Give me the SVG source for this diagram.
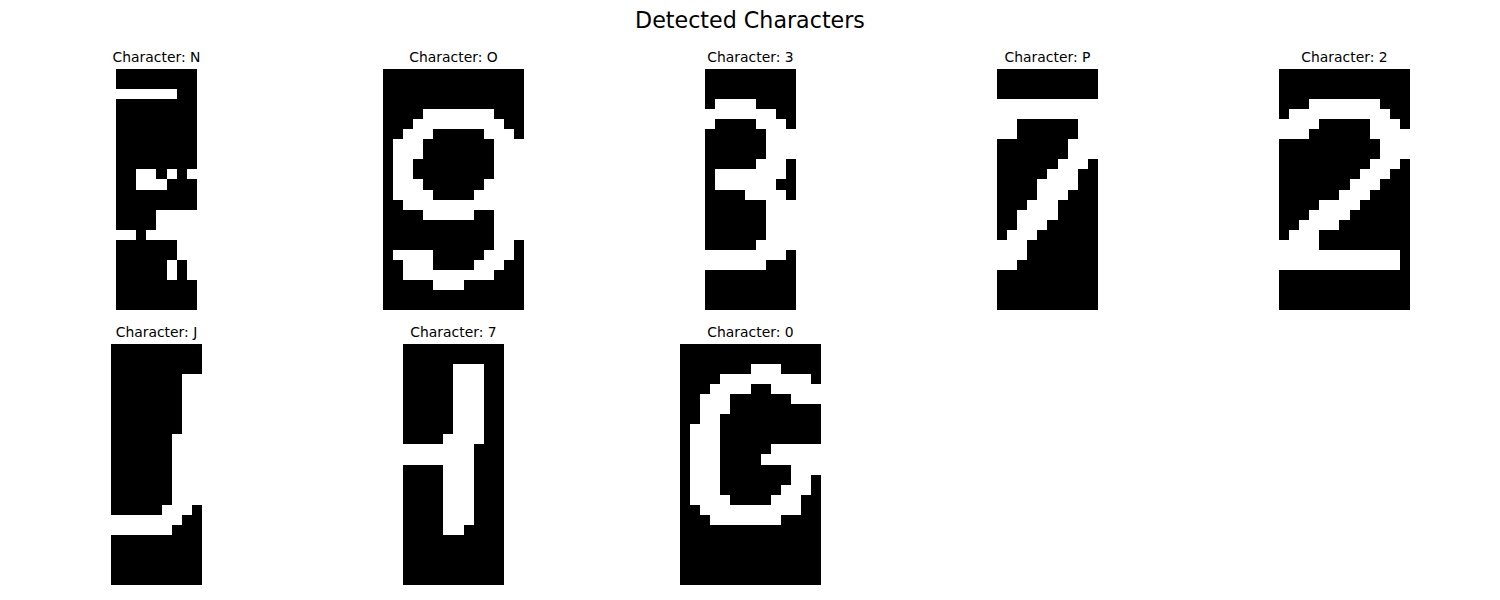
<svg xmlns="http://www.w3.org/2000/svg" width="1500" height="600" viewBox="0 0 1500 600">
<style>
.bg{fill:#ffffff}
.cell{fill:#000000}
.px{fill:#ffffff}
.ttl{font-family:"DejaVu Sans","Liberation Sans",sans-serif;font-size:13.9px;fill:#000;text-anchor:middle}
.sup{font-family:"DejaVu Sans","Liberation Sans",sans-serif;font-size:22.2px;fill:#000;text-anchor:middle}
</style>
<rect class="bg" x="0" y="0" width="1500" height="600"/>
<text class="sup" x="750" y="27.5">Detected Characters</text>

<g id="char1">
<text class="ttl" x="156.5" y="61.5">Character: N</text>
<g transform="translate(116.33,69) scale(10.0417)" shape-rendering="crispEdges">
<rect class="cell" x="0" y="0" width="8" height="24"/>
<path class="px" d="M0 2h6v1h-6z M2 10h2v1h-2z M5 10h1v1h-1z M7 10h1v1h-1z M2 11h3v1h-3z M4 14h4v2h-4z M0 16h2v1h-2z M3 16h5v1h-5z M6 17h2v2h-2z M5 19h1v2h-1z M7 19h1v2h-1z"/>
</g>
</g>

<g id="char2">
<text class="ttl" x="453.5" y="61.5">Character: O</text>
<g transform="translate(383.21,69) scale(10.0417)" shape-rendering="crispEdges">
<rect class="cell" x="0" y="0" width="14" height="24"/>
<path class="px" d="M4 4h7v1h-7z M3 5h9v1h-9z M2 6h3v1h-3z M10 6h3v1h-3z M1 7h3v2h-3z M11 7h3v2h-3z M1 9h2v2h-2z M11 9h3v2h-3z M1 11h3v1h-3z M10 11h4v1h-4z M1 12h4v1h-4z M9 12h5v1h-5z M2 13h12v1h-12z M4 14h5v1h-5z M11 14h3v3h-3z M11 17h2v1h-2z M1 18h4v1h-4z M10 18h3v1h-3z M2 19h3v1h-3z M9 19h3v1h-3z M2 20h9v1h-9z M5 21h3v1h-3z"/>
</g>
</g>

<g id="char3">
<text class="ttl" x="750.5" y="61.5">Character: 3</text>
<g transform="translate(705.31,69) scale(10.0417)" shape-rendering="crispEdges">
<rect class="cell" x="0" y="0" width="9" height="24"/>
<path class="px" d="M1 3h4v1h-4z M0 4h7v1h-7z M0 5h1v1h-1z M5 5h3v1h-3z M6 6h3v3h-3z M5 9h3v1h-3z M1 10h7v1h-7z M1 11h6v1h-6z M4 12h4v1h-4z M6 13h3v4h-3z M5 17h4v1h-4z M0 18h8v1h-8z M0 19h6v1h-6z"/>
</g>
</g>

<g id="char4">
<text class="ttl" x="1047.5" y="61.5">Character: P</text>
<g transform="translate(997.29,69) scale(10.0417)" shape-rendering="crispEdges">
<rect class="cell" x="0" y="0" width="10" height="24"/>
<path class="px" d="M0 3h10v2h-10z M0 5h2v2h-2z M8 5h2v2h-2z M7 7h3v2h-3z M6 9h3v1h-3z M5 10h3v1h-3z M4 11h4v1h-4z M4 12h3v1h-3z M3 13h3v1h-3z M2 14h4v1h-4z M2 15h3v1h-3z M1 16h3v1h-3z M0 17h3v2h-3z M0 19h2v1h-2z"/>
</g>
</g>

<g id="char5">
<text class="ttl" x="1344.5" y="61.5">Character: 2</text>
<g transform="translate(1279.23,69) scale(10.0417)" shape-rendering="crispEdges">
<rect class="cell" x="0" y="0" width="13" height="24"/>
<path class="px" d="M3 3h7v1h-7z M1 4h10v1h-10z M0 5h4v1h-4z M9 5h3v1h-3z M0 6h3v1h-3z M9 6h4v1h-4z M10 7h3v2h-3z M9 9h3v1h-3z M8 10h3v1h-3z M7 11h3v1h-3z M6 12h3v1h-3z M4 13h4v1h-4z M3 14h4v1h-4z M2 15h4v1h-4z M1 16h3v1h-3z M0 17h4v1h-4z M0 18h12v2h-12z"/>
</g>
</g>

<g id="char6">
<text class="ttl" x="156.5" y="336.5">Character: J</text>
<g transform="translate(111.31,344) scale(10.0417)" shape-rendering="crispEdges">
<rect class="cell" x="0" y="0" width="9" height="24"/>
<path class="px" d="M7 3h2v6h-2z M6 9h3v7h-3z M5 16h3v1h-3z M0 17h7v1h-7z M0 18h6v1h-6z"/>
</g>
</g>

<g id="char7">
<text class="ttl" x="453.5" y="336.5">Character: 7</text>
<g transform="translate(403.29,344) scale(10.0417)" shape-rendering="crispEdges">
<rect class="cell" x="0" y="0" width="10" height="24"/>
<path class="px" d="M5 2h3v7h-3z M4 9h4v1h-4z M0 10h7v2h-7z M4 12h3v6h-3z M4 18h2v1h-2z"/>
</g>
</g>

<g id="char8">
<text class="ttl" x="750.5" y="336.5">Character: 0</text>
<g transform="translate(680.21,344) scale(10.0417)" shape-rendering="crispEdges">
<rect class="cell" x="0" y="0" width="14" height="24"/>
<path class="px" d="M7 2h3v1h-3z M4 3h9v1h-9z M3 4h4v1h-4z M9 4h5v1h-5z M2 5h3v1h-3z M11 5h3v1h-3z M2 6h3v1h-3z M2 7h2v1h-2z M1 8h3v2h-3z M1 10h3v1h-3z M9 10h5v1h-5z M1 11h3v1h-3z M8 11h6v1h-6z M1 12h3v1h-3z M11 12h3v1h-3z M1 13h3v1h-3z M11 13h2v1h-2z M1 14h3v1h-3z M10 14h3v1h-3z M1 15h4v1h-4z M9 15h3v1h-3z M2 16h10v1h-10z M3 17h7v1h-7z"/>
</g>
</g>
</svg>
